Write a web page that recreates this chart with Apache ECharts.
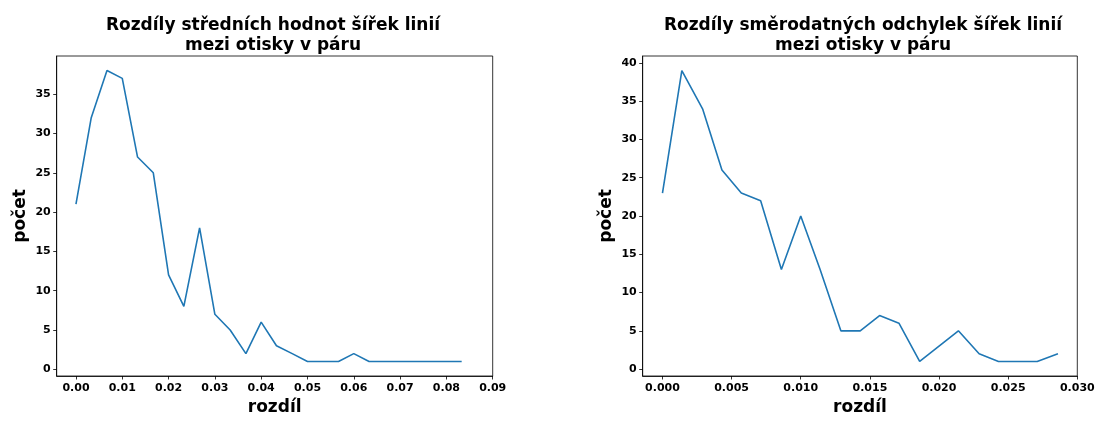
<!DOCTYPE html>
<html>
<head>
<meta charset="utf-8">
<script src="https://cdn.jsdelivr.net/npm/echarts@6/dist/echarts.min.js"></script>
<style>
html,body{margin:0;padding:0;background:#fff;}
#chart{width:1100px;height:421px;}
</style>
</head>
<body>
<div id="chart"></div>
<script>
// Left chart: differences of means
const meanX = [0.0000, 0.0033, 0.0067, 0.0100, 0.0133, 0.0167, 0.0200, 0.0233, 0.0267, 0.0300,
  0.0333, 0.0367, 0.0400, 0.0433, 0.0467, 0.0500, 0.0533, 0.0567, 0.0600, 0.0633,
  0.0667, 0.0700, 0.0733, 0.0767, 0.0800, 0.0833];
const meanCount = [21, 32, 38, 37, 27, 25, 12, 8, 18, 7, 5, 2, 6, 3, 2, 1, 1, 1, 2, 1, 1, 1, 1, 1, 1, 1];
const meanXTicks = [0.00, 0.01, 0.02, 0.03, 0.04, 0.05, 0.06, 0.07, 0.08, 0.09];
const meanYTicks = [0, 5, 10, 15, 20, 25, 30, 35];

// Right chart: differences of standard deviations
const sdX = [0.0000, 0.0014, 0.0029, 0.0043, 0.0057, 0.0071, 0.0086, 0.0100, 0.0114, 0.0129,
  0.0143, 0.0157, 0.0171, 0.0186, 0.0200, 0.0214, 0.0229, 0.0243, 0.0257, 0.0271, 0.0286];
const sdCount = [23, 39, 34, 26, 23, 22, 13, 20, 13, 5, 5, 7, 6, 1, 3, 5, 2, 1, 1, 1, 2];
const sdXTicks = [0.000, 0.005, 0.010, 0.015, 0.020, 0.025, 0.030];
const sdYTicks = [0, 5, 10, 15, 20, 25, 30, 35, 40];

const titleLeft = 'Rozdíly středních hodnot šířek linií\nmezi otisky v páru';
const titleRight = 'Rozdíly směrodatných odchylek šířek linií\nmezi otisky v páru';
const xName = 'rozdíl';
const yName = 'počet';

const FONT = 'DejaVu Sans';
const chart = echarts.init(document.getElementById('chart'), null, {renderer: 'canvas'});

function xAxisCfg(gridIndex, min, max, ticks, digits) {
  return {
    type: 'value', gridIndex, min, max,
    name: xName, nameLocation: 'middle', nameGap: 23,
    nameTextStyle: {fontFamily: FONT, fontWeight: 'bold', fontSize: 17, color: '#000'},
    axisLine: {show: true, onZero: false, lineStyle: {color: '#000', width: 0.8}},
    axisTick: {show: true, length: 3.5, lineStyle: {color: '#000', width: 0.8}, customValues: ticks},
    axisLabel: {fontFamily: FONT, fontWeight: 'bold', fontSize: 11, color: '#000', margin: 7,
      customValues: ticks, formatter: v => v.toFixed(digits)},
    splitLine: {show: false}
  };
}
function yAxisCfg(gridIndex, min, max, ticks) {
  return {
    type: 'value', gridIndex, min, max,
    name: yName, nameLocation: 'middle', nameGap: 28,
    nameTextStyle: {fontFamily: FONT, fontWeight: 'bold', fontSize: 17, color: '#000'},
    axisLine: {show: true, onZero: false, lineStyle: {color: '#000', width: 0.8}},
    axisTick: {show: true, length: 3.5, lineStyle: {color: '#000', width: 0.8}, customValues: ticks},
    axisLabel: {fontFamily: FONT, fontWeight: 'bold', fontSize: 11, color: '#000', margin: 6,
      customValues: ticks, formatter: v => String(v)},
    splitLine: {show: false}
  };
}

chart.setOption({
  animation: false,
  backgroundColor: '#fff',
  title: [
    {text: titleLeft, left: 268, top: 11, textAlign: 'center',
     textStyle: {fontFamily: FONT, fontWeight: 'bold', fontSize: 17, color: '#000', lineHeight: 20}},
    {text: titleRight, left: 858, top: 11, textAlign: 'center',
     textStyle: {fontFamily: FONT, fontWeight: 'bold', fontSize: 17, color: '#000', lineHeight: 20}}
  ],
  grid: [
    {left: 56.7, right: 607.3, top: 56, bottom: 40, show: true, borderColor: '#000', borderWidth: 0.8, containLabel: false},
    {left: 642.7, right: 22.7, top: 56, bottom: 40, show: true, borderColor: '#000', borderWidth: 0.8, containLabel: false}
  ],
  xAxis: [
    xAxisCfg(0, -0.00416, 0.09, meanXTicks, 2),
    xAxisCfg(1, -0.00143, 0.03, sdXTicks, 3)
  ],
  yAxis: [
    yAxisCfg(0, -0.85, 39.85, meanYTicks),
    yAxisCfg(1, -0.9, 40.9, sdYTicks)
  ],
  series: [
    {type: 'line', xAxisIndex: 0, yAxisIndex: 0, showSymbol: false, symbol: 'none',
     lineStyle: {color: '#1f77b4', width: 1.6}, itemStyle: {color: '#1f77b4'},
     data: meanX.map((x, i) => [x, meanCount[i]])},
    {type: 'line', xAxisIndex: 1, yAxisIndex: 1, showSymbol: false, symbol: 'none',
     lineStyle: {color: '#1f77b4', width: 1.6}, itemStyle: {color: '#1f77b4'},
     data: sdX.map((x, i) => [x, sdCount[i]])}
  ]
});
</script>
</body>
</html>
